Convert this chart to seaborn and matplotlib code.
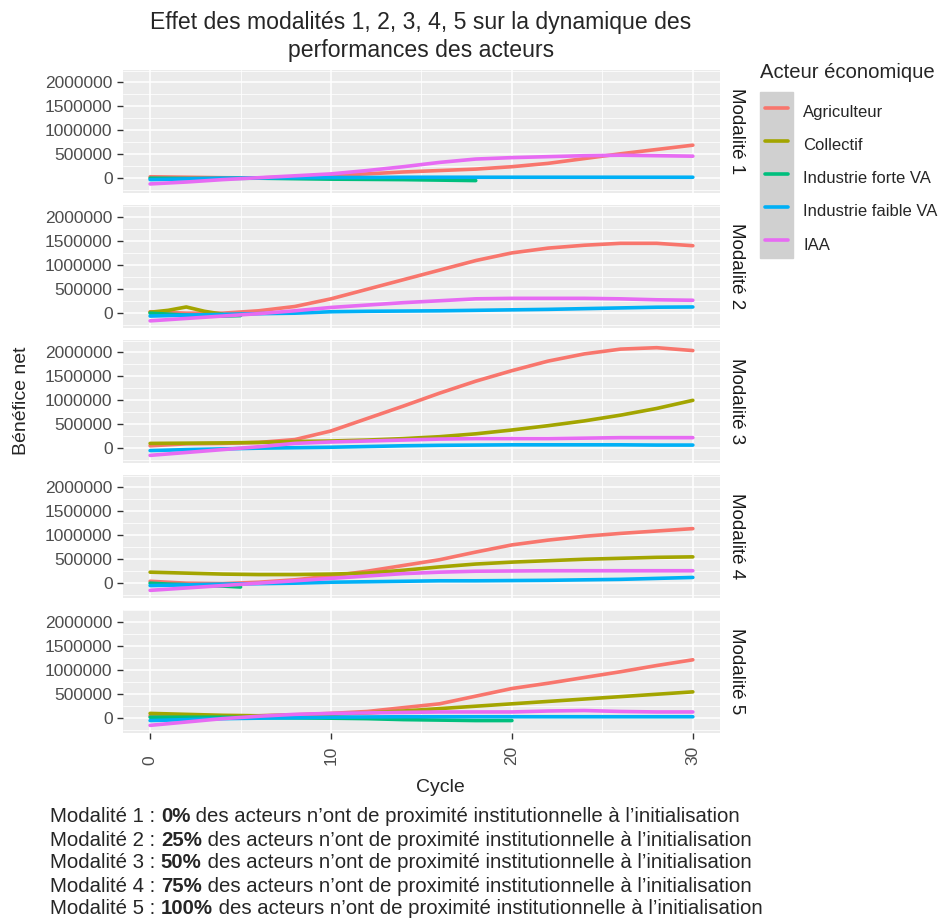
import matplotlib
matplotlib.use('Agg')
import numpy as np
import pandas as pd
import matplotlib.pyplot as plt
from matplotlib.patches import Rectangle
import seaborn as sns

########## Donnees ################################################
acteurs = ['Agriculteur', 'Collectif', 'Industrie forte VA', 'Industrie faible VA', 'IAA']
couleurs = ['#F8766D', '#A3A500', '#00BF7D', '#00B0F6', '#E76BF3']
modalites = ['Modalité 1', 'Modalité 2', 'Modalité 3', 'Modalité 4', 'Modalité 5']

cycles = [0, 2, 4, 6, 8, 10, 12, 14, 16, 18, 20, 22, 24, 26, 28, 30]

# Modalite 1
agri_m1 = [30000, 20000, 10000, 5000, 30000, 60000, 90000, 130000, 160000, 190000, 240000, 310000, 410000, 510000, 600000, 690000]
faible_m1 = [-30000, -15000, 0, 5000, 10000, 15000, 15000, 20000, 20000, 20000, 20000, 20000, 20000, 20000, 20000, 20000]
iaa_m1 = [-120000, -80000, -30000, 10000, 50000, 90000, 160000, 240000, 330000, 400000, 430000, 450000, 470000, 480000, 470000, 460000]
cycles_forte_m1 = [0, 2, 4, 6, 8, 10, 12, 14, 16, 18]
forte_m1 = [0, -5000, -5000, 0, -10000, -20000, -25000, -30000, -40000, -50000]

# Modalite 2
agri_m2 = [30000, 0, 0, 50000, 140000, 300000, 500000, 700000, 900000, 1100000, 1260000, 1360000, 1420000, 1460000, 1460000, 1410000]
cycles_coll_m2 = [0, 1, 2, 3, 4]
coll_m2 = [20000, 60000, 130000, 40000, -20000]
cycles_forte_m2 = [0, 1, 2, 3, 4, 5]
forte_m2 = [0, -20000, -40000, -60000, -60000, -50000]
faible_m2 = [-60000, -40000, -25000, -10000, 0, 30000, 40000, 45000, 50000, 60000, 70000, 80000, 95000, 110000, 125000, 130000]
iaa_m2 = [-160000, -110000, -60000, -10000, 50000, 120000, 170000, 220000, 260000, 300000, 310000, 310000, 310000, 300000, 280000, 270000]

# Modalite 3
agri_m3 = [50000, 90000, 100000, 120000, 180000, 360000, 620000, 880000, 1150000, 1400000, 1620000, 1820000, 1970000, 2070000, 2100000, 2040000]
coll_m3 = [100000, 105000, 110000, 120000, 140000, 150000, 170000, 200000, 240000, 300000, 380000, 470000, 570000, 690000, 830000, 1000000]
faible_m3 = [-50000, -30000, -15000, 0, 10000, 20000, 35000, 50000, 60000, 65000, 70000, 70000, 70000, 70000, 65000, 65000]
iaa_m3 = [-150000, -90000, -30000, 30000, 100000, 130000, 150000, 170000, 190000, 200000, 200000, 200000, 210000, 220000, 220000, 220000]

# Modalite 4
agri_m4 = [40000, 0, -10000, 20000, 70000, 150000, 250000, 370000, 490000, 650000, 800000, 900000, 980000, 1040000, 1090000, 1140000]
coll_m4 = [230000, 210000, 190000, 180000, 180000, 190000, 210000, 270000, 340000, 400000, 440000, 470000, 500000, 520000, 540000, 550000]
cycles_forte_m4 = [0, 1, 2, 3, 4, 5]
forte_m4 = [0, -20000, -30000, -50000, -60000, -80000]
faible_m4 = [-50000, -35000, -20000, -10000, 0, 20000, 30000, 40000, 50000, 50000, 55000, 60000, 70000, 80000, 100000, 120000]
iaa_m4 = [-150000, -100000, -50000, 0, 50000, 100000, 150000, 200000, 230000, 250000, 255000, 260000, 260000, 260000, 260000, 260000]

# Modalite 5
agri_m5 = [50000, 40000, 40000, 50000, 70000, 100000, 140000, 220000, 300000, 460000, 620000, 730000, 850000, 970000, 1100000, 1220000]
coll_m5 = [100000, 80000, 60000, 50000, 60000, 80000, 110000, 150000, 200000, 250000, 300000, 350000, 400000, 450000, 500000, 550000]
cycles_forte_m5 = [0, 2, 4, 6, 8, 10, 12, 14, 16, 18, 20]
forte_m5 = [20000, 20000, 20000, 10000, 5000, 0, -10000, -30000, -40000, -50000, -50000]
faible_m5 = [-50000, -30000, -10000, 0, 10000, 20000, 25000, 30000, 30000, 30000, 30000, 30000, 30000, 30000, 30000, 30000]
iaa_m5 = [-150000, -80000, -10000, 40000, 80000, 100000, 110000, 120000, 130000, 130000, 130000, 150000, 160000, 140000, 130000, 130000]

y_ticks = [0, 500000, 1000000, 1500000, 2000000]
y_tick_labels = ['0', '500000', '1000000', '1500000', '2000000']
x_ticks = [0, 10, 20, 30]

titre_l1 = 'Effet des modalités 1, 2, 3, 4, 5 sur la dynamique des'
titre_l2 = 'performances des acteurs'
note_debut = ['Modalité 1 : ', 'Modalité 2 : ', 'Modalité 3 : ', 'Modalité 4 : ', 'Modalité 5 : ']
note_pct = ['0%', '25%', '50%', '75%', '100%']
note_fin = ' des acteurs n’ont de proximité institutionnelle à l’initialisation'

series = [
    (modalites[0], acteurs[0], cycles, agri_m1),
    (modalites[0], acteurs[2], cycles_forte_m1, forte_m1),
    (modalites[0], acteurs[3], cycles, faible_m1),
    (modalites[0], acteurs[4], cycles, iaa_m1),
    (modalites[1], acteurs[0], cycles, agri_m2),
    (modalites[1], acteurs[1], cycles_coll_m2, coll_m2),
    (modalites[1], acteurs[2], cycles_forte_m2, forte_m2),
    (modalites[1], acteurs[3], cycles, faible_m2),
    (modalites[1], acteurs[4], cycles, iaa_m2),
    (modalites[2], acteurs[0], cycles, agri_m3),
    (modalites[2], acteurs[1], cycles, coll_m3),
    (modalites[2], acteurs[3], cycles, faible_m3),
    (modalites[2], acteurs[4], cycles, iaa_m3),
    (modalites[3], acteurs[0], cycles, agri_m4),
    (modalites[3], acteurs[1], cycles, coll_m4),
    (modalites[3], acteurs[2], cycles_forte_m4, forte_m4),
    (modalites[3], acteurs[3], cycles, faible_m4),
    (modalites[3], acteurs[4], cycles, iaa_m4),
    (modalites[4], acteurs[0], cycles, agri_m5),
    (modalites[4], acteurs[1], cycles, coll_m5),
    (modalites[4], acteurs[2], cycles_forte_m5, forte_m5),
    (modalites[4], acteurs[3], cycles, faible_m5),
    (modalites[4], acteurs[4], cycles, iaa_m5),
]

rows = []
for mod, act, xs, ys in series:
    for x, y in zip(xs, ys):
        rows.append({'Modalite': mod, 'Acteur': act, 'Cycle': x, 'Benefice': y})
df = pd.DataFrame(rows)

########## Style ggplot #############################
sns.set_theme(style='darkgrid', rc={'axes.facecolor': '#EBEBEB', 'grid.color': 'white',
                                    'axes.edgecolor': '#EBEBEB', 'figure.facecolor': 'white'})
plt.rcParams['font.family'] = ['Liberation Sans', 'DejaVu Sans']

fig, axes = plt.subplots(5, 1, figsize=(9.43, 9.24), dpi=100, sharex=True, sharey=True)
fig.subplots_adjust(left=0.1304, right=0.7635, top=0.9242, bottom=0.2067, hspace=0.0976)
W, H = 943.0, 924.0

for i, ax in enumerate(axes):
    sub = df[df['Modalite'] == modalites[i]]
    sns.lineplot(data=sub, x='Cycle', y='Benefice', hue='Acteur', hue_order=acteurs,
                 palette=couleurs, lw=2.6, ax=ax, legend=(i == 3))
    ax.set_xlim(-1.5, 31.5)
    ax.set_ylim(-310000, 2260000)
    ax.set_yticks(y_ticks)
    ax.set_yticklabels(y_tick_labels)
    ax.set_yticks([-250000, 250000, 750000, 1250000, 1750000, 2250000], minor=True)
    ax.set_xticks(x_ticks)
    ax.set_xticks([5, 15, 25], minor=True)
    ax.grid(which='major', color='white', lw=1.1)
    ax.grid(which='minor', color='white', lw=0.55)
    ax.tick_params(axis='both', which='major', length=4.5, width=1, color='#333333',
                   labelsize=12.5, labelcolor='#4D4D4D', pad=3)
    ax.tick_params(which='minor', length=0)
    ax.tick_params(axis='y', left=True)
    ax.tick_params(axis='x', bottom=(i == 4))
    ax.set_xlabel('')
    ax.set_ylabel('')
    for s in ax.spines.values():
        s.set_visible(False)
    ax.text(1.027, 0.5, modalites[i], transform=ax.transAxes, rotation=270,
            ha='center', va='center', fontsize=13.5, color='#1A1A1A')

handles, labels = axes[3].get_legend_handles_labels()
axes[3].get_legend().remove()
for h in handles:
    h.set_linewidth(2.6)

axes[-1].tick_params(axis='x', labelrotation=90, pad=18.5)
for lbl in axes[-1].get_xticklabels():
    lbl.set_va('bottom')

fig.text(760 / W, 1 - 72 / H, 'Acteur économique', ha='left', va='center', fontsize=14.6)
leg = fig.legend(handles, labels, loc='upper left',
                 bbox_to_anchor=(765 / W, 1 - 99 / H), frameon=False, fontsize=12,
                 handlelength=1.4, handleheight=2.0, labelspacing=0.44,
                 handletextpad=0.9, borderpad=0, borderaxespad=0)
fig.patches.append(Rectangle((760 / W, 1 - 258 / H), 33 / W, 166 / H,
                             transform=fig.transFigure, color='#D0D0D0', zorder=0))

fig.text(22 / W, 1 - 401 / H, 'Bénéfice net', rotation=90, ha='center', va='center', fontsize=14)
fig.text(440 / W, 1 - 787 / H, 'Cycle', ha='center', va='center', fontsize=14)

rend = fig.canvas.get_renderer()


def taille_ajustee(texte, largeur_px):
    t = fig.text(0, 0, texte, fontsize=10)
    w = t.get_window_extent(renderer=rend).width
    t.remove()
    return 10 * largeur_px / w


# titre sur deux lignes
taille_titre = taille_ajustee(titre_l1, 543)
fig.text(421 / W, 1 - 22 / H, titre_l1, ha='center', va='center', fontsize=taille_titre)
fig.text(421 / W, 1 - 50 / H, titre_l2, ha='center', va='center', fontsize=taille_titre)

# notes en bas, pourcentages en gras
taille_note = taille_ajustee(note_debut[0] + note_pct[0] + note_fin, 690)
for k in range(len(note_debut)):
    y = 1 - (817 + 23 * k) / H
    x = 50 / W
    for morceau, poids in [(note_debut[k], 'normal'), (note_pct[k], 'bold'), (note_fin, 'normal')]:
        t = fig.text(x, y, morceau, ha='left', va='center', fontsize=taille_note, weight=poids)
        x = t.get_window_extent(renderer=rend).x1 / W

fig.savefig('out.png', dpi=100)
